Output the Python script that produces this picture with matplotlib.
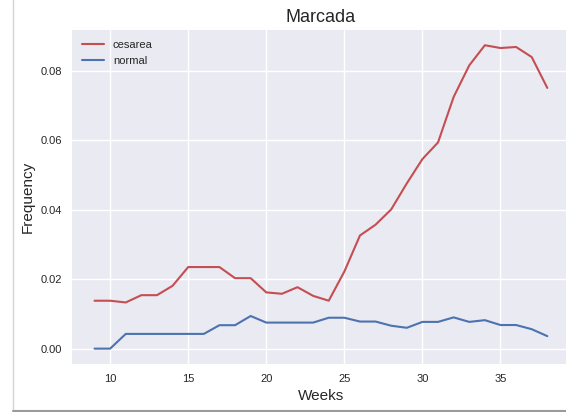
import matplotlib
matplotlib.use("Agg")
import matplotlib.pyplot as plt
from matplotlib.lines import Line2D

weeks = list(range(9, 39))
cesarea = [0.0138, 0.0138, 0.0133, 0.0154, 0.0154, 0.0181, 0.0235, 0.0235, 0.0235,
           0.0203, 0.0203, 0.0162, 0.0158, 0.0177, 0.0152, 0.0138, 0.0222, 0.0326,
           0.0357, 0.0401, 0.0476, 0.0546, 0.0594, 0.0725, 0.0816, 0.0874, 0.0866,
           0.0869, 0.0840, 0.0751]
normal = [0.0, 0.0, 0.00424, 0.00424, 0.00424, 0.00424, 0.00424, 0.00424, 0.00675,
          0.00675, 0.0094, 0.0075, 0.0075, 0.0075, 0.0075, 0.0089, 0.0089, 0.0078,
          0.0078, 0.0066, 0.0060, 0.0077, 0.0077, 0.0090, 0.0077, 0.0082, 0.0068,
          0.0068, 0.0056, 0.0036]

plt.style.use("seaborn-v0_8")
plt.rcParams['font.family'] = ['Liberation Sans', 'DejaVu Sans']

fig = plt.figure(figsize=(5.66, 4.12), dpi=100)
ax = fig.add_axes([0.127, 0.117, 0.88, 0.81])
ax.plot(weeks, cesarea, color="#C44E52", label="cesarea", lw=1.5)
ax.plot(weeks, normal, color="#4C72B0", label="normal", lw=1.5)
ax.set_title("Marcada", fontsize=13)
ax.set_xlabel("Weeks", fontsize=11)
ax.set_ylabel("Frequency", fontsize=11)
ax.tick_params(labelsize=8)
ax.legend(loc="upper left", fontsize=8)

# screenshot frame edges
fig.add_artist(Line2D([12.5 / 566, 12.5 / 566], [0.0, 1.0], transform=fig.transFigure,
                      color="#d4d4d4", lw=1.0))
fig.add_artist(Line2D([12.5 / 566, 1.0], [1.5 / 412, 1.5 / 412], transform=fig.transFigure,
                      color="#9a9a9a", lw=1.5))
fig.savefig("out.png", dpi=100)
